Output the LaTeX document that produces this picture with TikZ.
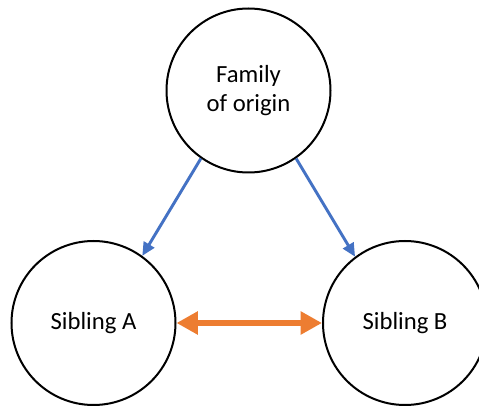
\documentclass[tikz,border=0pt]{standalone}
\usepackage{fontspec}
\setmainfont{Carlito}
\usetikzlibrary{arrows.meta}
\definecolor{arrowblue}{RGB}{68,114,196}
\definecolor{arroworange}{RGB}{237,125,49}

\tikzset{
	member/.style={draw, circle, line width=1.5pt, minimum size=123pt, inner sep=0pt, align=center, font=\fontsize{18.5}{22}\selectfont},
	influence/.style={draw=arrowblue, line width=2.2pt, -{Triangle[length=10pt,width=9pt]}},
	bond/.style={draw=arroworange, line width=5pt, {Triangle[length=16pt,width=16.5pt]}-{Triangle[length=16pt,width=16.5pt]}}
}

\begin{document}
\begin{tikzpicture}[x=0.75pt,y=-0.75pt]
	\useasboundingbox (0,0) rectangle (479,406);

	\node[member] (family) at (248.5,90.5) {Family\\of origin};	% parents
	\node[member] (sibA) at (93.5,323) {Sibling A};
	\node[member] (sibB) at (405,323) {Sibling B};

	\draw[influence] (family.235) -- (sibA.54);	% down
	\draw[influence] (family.305) -- (sibB.127);
	\draw[bond] (sibA.east) -- (sibB.west);	% between
\end{tikzpicture}
\end{document}
